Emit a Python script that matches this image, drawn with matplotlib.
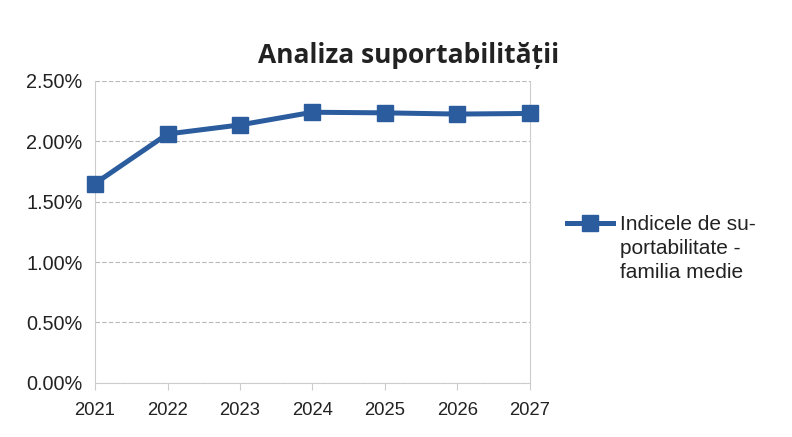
import matplotlib
matplotlib.use("Agg")
import matplotlib.pyplot as plt
from matplotlib.ticker import FuncFormatter
from matplotlib.lines import Line2D

years = [2021, 2022, 2023, 2024, 2025, 2026, 2027]
values = [1.65, 2.06, 2.135, 2.24, 2.235, 2.225, 2.23]
series_label_lines = ["Indicele de su-", "portabilitate -", "familia medie"]
title = "Analiza suportabilității"

plt.rcParams['font.family'] = ['Liberation Sans', 'DejaVu Sans']

fig = plt.figure(figsize=(7.92, 4.37), dpi=100)
ax = fig.add_axes([0.12, 0.124, 0.549, 0.691])

color = '#2B5C9E'
ax.plot(years, values, color=color, linewidth=3.6, marker='s', markersize=12,
        clip_on=False, zorder=5)

ax.set_xlim(years[0], years[-1])
ax.set_ylim(0, 2.5)
ax.set_yticks([0, 0.5, 1.0, 1.5, 2.0, 2.5])
ax.yaxis.set_major_formatter(FuncFormatter(lambda v, p: f"{v:.2f}%"))
ax.set_xticks(years)
ax.grid(axis='y', color='#b8b8b8', linestyle=(0, (4, 2)), linewidth=0.8)
ax.spines['top'].set_visible(False)
for s in ['left', 'right', 'bottom']:
    ax.spines[s].set_color('#cccccc')
    ax.spines[s].set_linewidth(0.8)
ax.tick_params(axis='y', length=0, labelsize=14.3, pad=9, colors='#222222')
ax.tick_params(axis='x', length=5, direction='out', color='#cccccc',
               labelsize=13.3, pad=9, labelcolor='#222222')

fig.text(0.516, 0.874, title, ha='center', va='center', fontsize=19,
         fontweight='bold', family=['Open Sans', 'DejaVu Sans'], color='#222222')

handles = [Line2D([], [], color=color, linewidth=3.6, marker='s', markersize=11)]
handles += [Line2D([], [], linestyle='none') for _ in series_label_lines[1:]]
leg = fig.legend(handles, series_label_lines, loc='upper left',
                 bbox_to_anchor=(0.716, 0.507), frameon=False,
                 fontsize=15, handlelength=2.2, handletextpad=0.35,
                 labelspacing=0.24, borderaxespad=0, borderpad=0)
for t in leg.get_texts():
    t.set_color('#222222')

fig.savefig('out.png', dpi=100, facecolor='white')
